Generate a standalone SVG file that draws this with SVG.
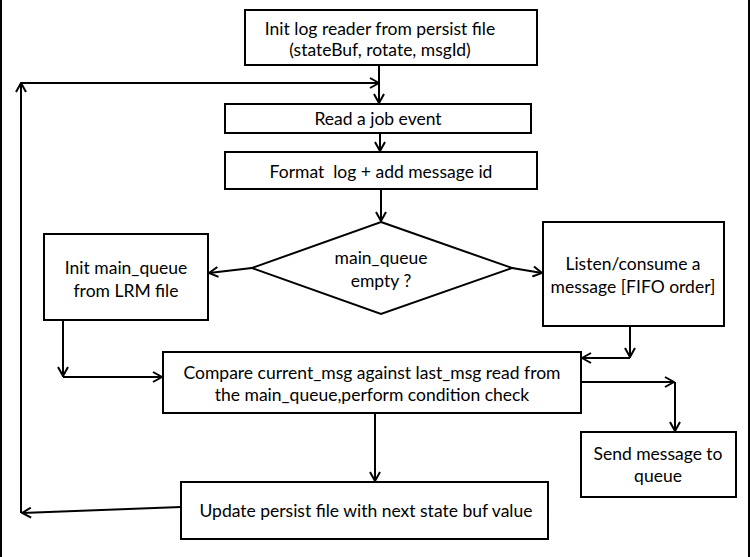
<svg xmlns="http://www.w3.org/2000/svg" width="750" height="557" viewBox="0 0 750 557">
<style>
.box{fill:#fff;stroke:#000;stroke-width:2}
.t{font-family:Lato,"Liberation Sans",sans-serif;font-size:17.5px;fill:#000;text-anchor:middle}
.c{fill:none;stroke:#000;stroke-width:2}
</style>
<defs>
<marker id="a" viewBox="0 0 12 12" refX="11" refY="6" markerWidth="12" markerHeight="12" markerUnits="userSpaceOnUse" orient="auto">
<path d="M2,1 L11,6 L2,11" fill="none" stroke="#000" stroke-width="2"/>
</marker>
</defs>
<rect x="0" y="0" width="750" height="557" fill="#fff"/>
<line x1="1" y1="0" x2="1" y2="557" stroke="#000" stroke-width="2"/>
<line x1="749" y1="0" x2="749" y2="557" stroke="#000" stroke-width="2"/>
<g id="connectors">
<line class="c" x1="379" y1="65" x2="379" y2="103" marker-end="url(#a)"/>
<line class="c" x1="21" y1="513" x2="21" y2="83" marker-end="url(#a)"/>
<line class="c" x1="21" y1="83" x2="379" y2="83" marker-end="url(#a)"/>
<line class="c" x1="380" y1="133" x2="380" y2="151" marker-end="url(#a)"/>
<line class="c" x1="381" y1="189" x2="381" y2="221" marker-end="url(#a)"/>
<line class="c" x1="252" y1="268" x2="209" y2="273" marker-end="url(#a)"/>
<line class="c" x1="512" y1="268" x2="542" y2="273" marker-end="url(#a)"/>
<polyline class="c" points="63,320 63,376" marker-end="url(#a)"/>
<polyline class="c" points="63,377 162,377" marker-end="url(#a)"/>
<polyline class="c" points="630,326 630,357" marker-end="url(#a)"/>
<polyline class="c" points="630,358 582,358" marker-end="url(#a)"/>
<polyline class="c" points="581,382 674,382" marker-end="url(#a)"/>
<polyline class="c" points="675,382 675,431" marker-end="url(#a)"/>
<line class="c" x1="375" y1="413" x2="375" y2="481" marker-end="url(#a)"/>
<line class="c" x1="181" y1="507" x2="22" y2="513" marker-end="url(#a)"/>
</g>
<g id="init">
<rect class="box" x="245" y="10" width="292" height="55"/>
<text class="t" x="380" y="35">Init log reader from persist file</text>
<text class="t" x="380" y="56">(stateBuf, rotate, msgId)</text>
</g>
<g id="read">
<rect class="box" x="225" y="104" width="306" height="29"/>
<text class="t" x="378" y="125">Read a job event</text>
</g>
<g id="format">
<rect class="box" x="225" y="152" width="312" height="37"/>
<text class="t" x="381" y="178" xml:space="preserve">Format  log + add message id</text>
</g>
<g id="decision">
<polygon class="box" points="381,222 512,268 381,314 252,268"/>
<text class="t" x="381" y="264">main_queue</text>
<text class="t" x="381" y="287">empty ?</text>
</g>
<g id="initqueue">
<rect class="box" x="44" y="234" width="164" height="86"/>
<text class="t" x="126" y="274">Init main_queue</text>
<text class="t" x="126" y="297">from LRM file</text>
</g>
<g id="listen">
<rect class="box" x="543" y="222" width="181" height="104"/>
<text class="t" x="633" y="270">Listen/consume a</text>
<text class="t" x="633" y="293">message [FIFO order]</text>
</g>
<g id="compare">
<rect class="box" x="163" y="352" width="418" height="61"/>
<text class="t" x="372" y="379">Compare current_msg against last_msg read from</text>
<text class="t" x="372" y="401">the main_queue,perform condition check</text>
</g>
<g id="send">
<rect class="box" x="581" y="432" width="155" height="65"/>
<text class="t" x="658" y="460">Send message to</text>
<text class="t" x="658" y="482">queue</text>
</g>
<g id="update">
<rect class="box" x="181" y="482" width="367" height="57"/>
<text class="t" x="366" y="517">Update persist file with next state buf value</text>
</g>
</svg>
